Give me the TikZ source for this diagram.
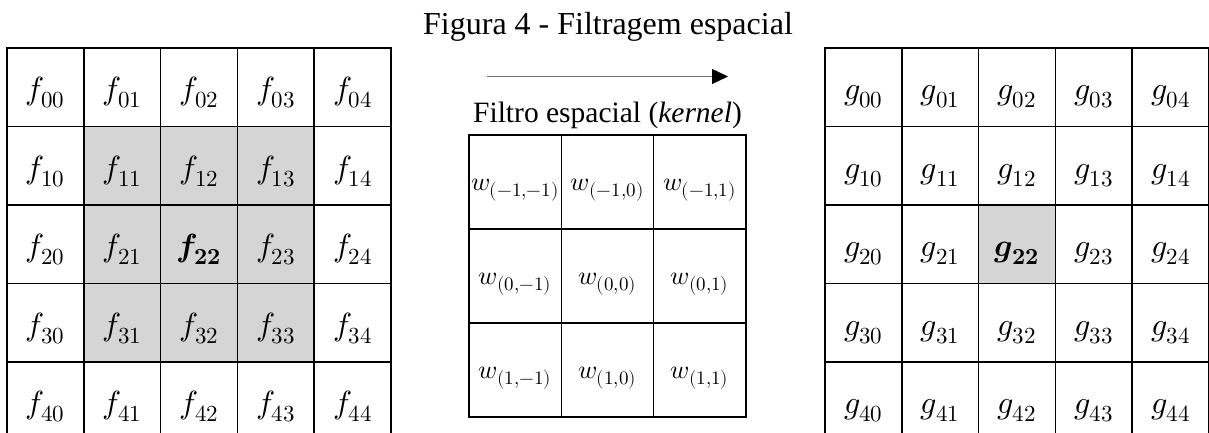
\documentclass[tikz,border=0pt]{standalone}
\usepackage{amsmath}
\usepackage{fontspec}
\usepackage{unicode-math}
\setmainfont{Liberation Serif}
\setmathfont{Latin Modern Math}
\DeclareMathSizes{32}{32}{23}{17}
\DeclareMathSizes{26}{26}{19}{14}
\usetikzlibrary{arrows.meta}
\definecolor{cellgray}{RGB}{212,213,212}
\definecolor{shaftgray}{RGB}{110,110,110}
\tikzset{
  cell/.style={draw=black, line width=1.6pt, minimum width=76.8pt, minimum height=78.5pt, inner sep=0pt, text height=31pt, text depth=6pt, font=\fontsize{32}{36}\selectfont},
  kcell/.style={draw=black, line width=1.6pt, minimum width=92.3pt, minimum height=94pt, inner sep=0pt, text height=21pt, text depth=5pt, font=\fontsize{26}{30}\selectfont},
  shade/.style={fill=cellgray},
  titletext/.style={font=\fontsize{32}{36}\selectfont, anchor=base},
  labeltext/.style={font=\fontsize{29.5}{33}\selectfont, anchor=base},
}
\begin{document}
\begin{tikzpicture}[x=1pt,y=-1pt]
\useasboundingbox (0,0) rectangle (1209,433);
\clip (0,0) rectangle (1209,433);
% input image f
\foreach \r in {0,...,4}{
  \foreach \c in {0,...,4}{
    \pgfmathtruncatemacro{\isinner}{(\r>0)&&(\r<4)&&(\c>0)&&(\c<4)}
    \pgfmathtruncatemacro{\ismid}{(\r==2)&&(\c==2)}
    \ifnum\ismid=1
      \node[cell,shade] (f-\r-\c) at ({7+76.8*(\c+0.5)},{48+78.5*(\r+0.5)}) {$\symbfit{f}_{\symbf{22}}$};
    \else
      \ifnum\isinner=1
        \node[cell,shade] (f-\r-\c) at ({7+76.8*(\c+0.5)},{48+78.5*(\r+0.5)}) {$f_{\r\c}$};
      \else
        \node[cell] (f-\r-\c) at ({7+76.8*(\c+0.5)},{48+78.5*(\r+0.5)}) {$f_{\r\c}$};
      \fi
    \fi
  }
}
% output image g
\foreach \r in {0,...,4}{
  \foreach \c in {0,...,4}{
    \pgfmathtruncatemacro{\ismid}{(\r==2)&&(\c==2)}
    \ifnum\ismid=1
      \node[cell,shade] (g-\r-\c) at ({825+76.8*(\c+0.5)},{48+78.5*(\r+0.5)}) {$\symbfit{g}_{\symbf{22}}$};
    \else
      \node[cell] (g-\r-\c) at ({825+76.8*(\c+0.5)},{48+78.5*(\r+0.5)}) {$g_{\r\c}$};
    \fi
  }
}
% title
\node[titletext] (title) at (608,35) {Figura 4 - Filtragem espacial};
% arrow
\coordinate (arrs) at (487,76.5);
\coordinate (arre) at (728,76.5);
\draw[shaftgray, line width=1.4pt, -{Triangle[length=16pt,width=15pt,color=black]}] (arrs) -- (arre);
% kernel label
\node[labeltext] (klabel) at (607.5,123) {Filtro espacial (\textit{kernel})};
% kernel
\node[kcell] (w-0-0) at ({469+92.3*0.5},{135+94*0.5}) {$w_{(-1,-1)}$};
\node[kcell] (w-0-1) at ({469+92.3*1.5},{135+94*0.5}) {$w_{(-1,0)}$};
\node[kcell] (w-0-2) at ({469+92.3*2.5},{135+94*0.5}) {$w_{(-1,1)}$};
\node[kcell] (w-1-0) at ({469+92.3*0.5},{135+94*1.5}) {$w_{(0,-1)}$};
\node[kcell] (w-1-1) at ({469+92.3*1.5},{135+94*1.5}) {$w_{(0,0)}$};
\node[kcell] (w-1-2) at ({469+92.3*2.5},{135+94*1.5}) {$w_{(0,1)}$};
\node[kcell] (w-2-0) at ({469+92.3*0.5},{135+94*2.5}) {$w_{(1,-1)}$};
\node[kcell] (w-2-1) at ({469+92.3*1.5},{135+94*2.5}) {$w_{(1,0)}$};
\node[kcell] (w-2-2) at ({469+92.3*2.5},{135+94*2.5}) {$w_{(1,1)}$};
\end{tikzpicture}
\end{document}
